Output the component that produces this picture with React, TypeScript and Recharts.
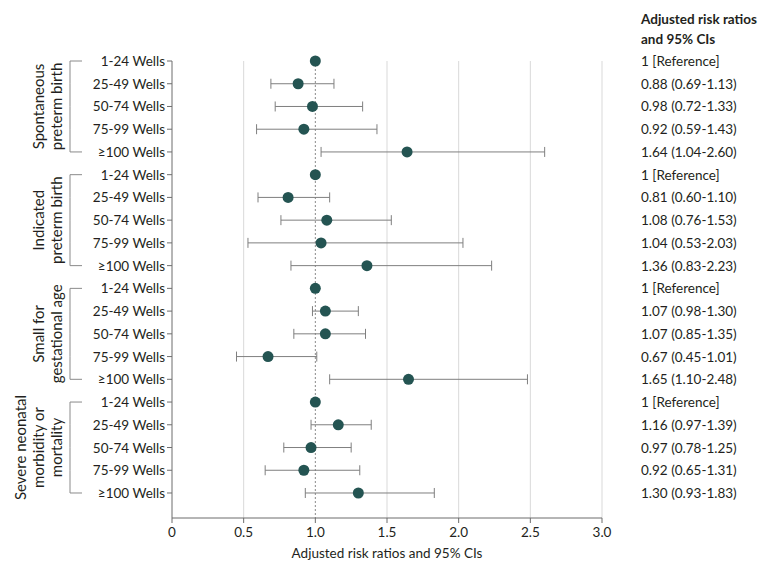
import React from 'react';
import {
  ScatterChart,
  Scatter,
  XAxis,
  YAxis,
  CartesianGrid,
  ErrorBar,
} from 'recharts';

const groups = [
  ['Spontaneous', 'preterm birth'],
  ['Indicated', 'preterm birth'],
  ['Small for', 'gestational age'],
  ['Severe neonatal', 'morbidity or', 'mortality'],
];
const wellBands = ['1-24 Wells', '25-49 Wells', '50-74 Wells', '75-99 Wells', '≥100 Wells'];

const estimates = [
  1, 0.88, 0.98, 0.92, 1.64,
  1, 0.81, 1.08, 1.04, 1.36,
  1, 1.07, 1.07, 0.67, 1.65,
  1, 1.16, 0.97, 0.92, 1.3,
];
const lows = [
  null, 0.69, 0.72, 0.59, 1.04,
  null, 0.6, 0.76, 0.53, 0.83,
  null, 0.98, 0.85, 0.45, 1.1,
  null, 0.97, 0.78, 0.65, 0.93,
];
const highs = [
  null, 1.13, 1.33, 1.43, 2.6,
  null, 1.1, 1.53, 2.03, 2.23,
  null, 1.3, 1.35, 1.01, 2.48,
  null, 1.39, 1.25, 1.31, 1.83,
];
const xTicks = [0, 0.5, 1, 1.5, 2, 2.5, 3];
const gridValues = [0.5, 1.5, 2, 2.5, 3];
const nullValue = [1];

const WIDTH = 780;
const HEIGHT = 573;
const TOP = 61;
const X_AXIS_H = 55;
const Y_MAX = 20.1;
const STEP = (HEIGHT - TOP - X_AXIS_H) / Y_MAX;
const FONT = 'Lato, "Open Sans", sans-serif';
const FS = 13.5;
const TEXT = '#231f20';
const BRACKET = '#8a8a8a';

const rows = estimates.map((est, i) => {
  const lo = lows[i];
  const hi = highs[i];
  return {
    row: i,
    est,
    err: lo == null || hi == null ? null : [est - lo, hi - est],
    label: wellBands[i % 5],
    ci: lo == null ? '1 [Reference]' : `${est.toFixed(2)} (${lo.toFixed(2)}-${hi!.toFixed(2)})`,
  };
});

const fmtX = (v: number) => (v === 0 ? '0' : v.toFixed(1));

const RowTick = (props: any) => {
  const { x, y, payload } = props;
  const i = payload.value as number;
  const r = rows[i];
  const pos = i % 5;
  const g = groups[Math.floor(i / 5)];
  const bx = 70;
  return (
    <g>
      <text x={x} y={y} textAnchor="end" dominantBaseline="central" fontSize={FS} fill={TEXT} fontFamily={FONT}>
        {r.label}
      </text>
      <text x={641} y={y} textAnchor="start" dominantBaseline="central" fontSize={FS} fill={TEXT} fontFamily={FONT}>
        {r.ci}
      </text>
      {pos === 0 && <line x1={bx} x2={bx + 12} y1={y} y2={y} stroke={BRACKET} />}
      {pos === 4 && <line x1={bx} x2={bx + 12} y1={y} y2={y} stroke={BRACKET} />}
      {pos < 4 && <line x1={bx} x2={bx} y1={y} y2={y + STEP} stroke={BRACKET} />}
      {pos === 2 && (
        <text
          transform={`translate(${56 - (g.length - 1) * 18},${y}) rotate(-90)`}
          textAnchor="middle"
          fontSize={15}
          fill={TEXT}
          fontFamily={FONT}
        >
          {g.map((line, k) => (
            <tspan key={k} x={0} y={k * 18} dominantBaseline="central">
              {line}
            </tspan>
          ))}
        </text>
      )}
    </g>
  );
};

const Dot = (p: any) => <circle cx={p.cx} cy={p.cy} r={5.5} fill="#245452" />;

export default function App() {
  return (
    <div style={{ position: 'absolute', left: 0, top: 0, width: WIDTH, height: HEIGHT, background: '#fff', fontFamily: FONT }}>
      <div
        style={{
          position: 'absolute',
          left: 641,
          top: 9,
          fontSize: FS,
          fontWeight: 700,
          lineHeight: '20px',
          color: TEXT,
        }}
      >
        Adjusted risk ratios
        <br />
        and 95% CIs
      </div>
      <ScatterChart width={WIDTH} height={HEIGHT} margin={{ top: TOP, right: 178, bottom: 0, left: 0 }}>
        <CartesianGrid horizontal={false} verticalValues={gridValues} stroke="#d9d9d9" />
        <CartesianGrid horizontal={false} verticalValues={nullValue} stroke="#8a8a8a" strokeDasharray="2 2" />
        <XAxis
          type="number"
          dataKey="est"
          domain={[0, 3]}
          ticks={xTicks}
          tickFormatter={fmtX}
          height={X_AXIS_H}
          tickSize={5}
          tickMargin={4}
          stroke="#6d6d6d"
          tick={{ fill: TEXT, fontSize: FS, fontFamily: FONT }}
          label={{
            value: 'Adjusted risk ratios and 95% CIs',
            position: 'insideBottom',
            offset: 15,
            fill: TEXT,
            fontSize: FS,
            fontFamily: FONT,
          }}
        />
        <YAxis
          type="number"
          dataKey="row"
          domain={[0, Y_MAX]}
          reversed
          ticks={rows.map(r => r.row)}
          interval={0}
          width={172}
          tickSize={5}
          tickMargin={2}
          stroke="#6d6d6d"
          tick={<RowTick />}
        />
        <Scatter data={rows} shape={Dot} isAnimationActive={false}>
          <ErrorBar dataKey="err" direction="x" width={5} stroke="#7f7f7f" strokeWidth={1} />
        </Scatter>
      </ScatterChart>
    </div>
  );
}
